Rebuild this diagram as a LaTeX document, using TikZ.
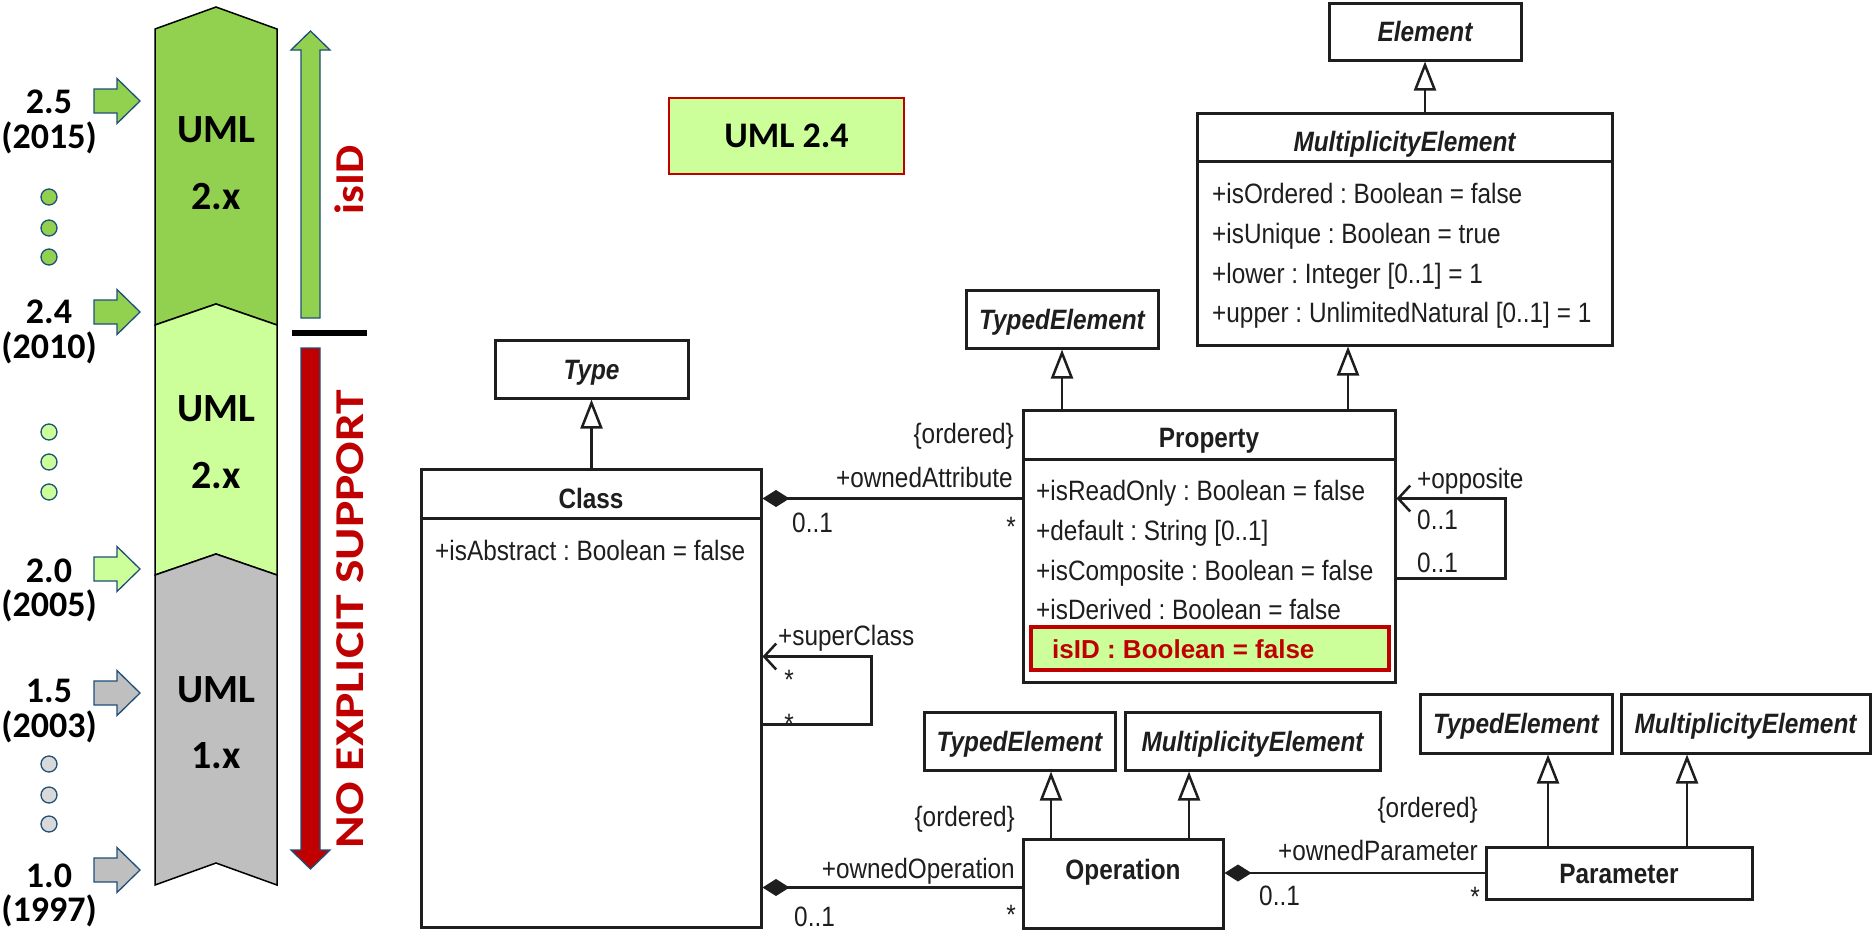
\documentclass[tikz,border=0pt]{standalone}
\usepackage{fontspec}
\usetikzlibrary{arrows.meta}
\setmainfont{Liberation Sans}
\newfontfamily\umlfont[FakeStretch=0.87]{Liberation Sans}
\newfontfamily\plainsans{Liberation Sans}
\newfontfamily\calfont{Carlito}
\frenchspacing

\definecolor{dkgreen}{HTML}{92D050}
\definecolor{ltgreen}{HTML}{CCFF99}
\definecolor{midgray}{HTML}{BFBFBF}
\definecolor{dotgray}{HTML}{D9D9D9}
\definecolor{navy}{HTML}{1F4E79}
\definecolor{umlred}{HTML}{C00000}
\definecolor{inkc}{HTML}{1E1E1E}

% block arrow pointing at the timeline: #1 = y of the tip, #2 = fill colour
\newcommand\verarrow[2]{%
  \filldraw[outl, fill=#2] (94,{#1-12}) -- (117,{#1-12}) -- (117,{#1-22.5}) -- (140,#1)
    -- (117,{#1+22.5}) -- (117,{#1+12}) -- (94,{#1+12}) -- cycle;}

\tikzset{
  umlbox/.style={draw=inkc, line width=3pt, fill=white, inner sep=0pt,
    font=\umlfont\bfseries\itshape\fontsize{28}{32}\selectfont, text=inkc,
    text height=20pt, text depth=0pt},
  attr/.style={font=\umlfont\fontsize{28}{32}\selectfont, text=inkc, inner sep=0pt},
  ttl/.style={font=\umlfont\bfseries\fontsize{28}{32}\selectfont, text=inkc, inner sep=0pt},
  divline/.style={draw=inkc, line width=2.5pt},
  gen/.style={draw=inkc, line width=2.5pt, -{Triangle[open, length=29pt, width=22pt]}},
  comp/.style={draw=inkc, line width=2.5pt, {Diamond[length=27pt, width=17pt]}-},
  nav/.style={draw=inkc, line width=2.5pt, -{Straight Barb[length=12pt, width=26pt]}},
  verlab/.style={font=\calfont\bfseries\fontsize{36}{40}\selectfont, inner sep=0pt, anchor=base},
  colname/.style={font=\calfont\bfseries\fontsize{40}{44}\selectfont, inner sep=0pt, anchor=base},
  sidelab/.style={font=\calfont\bfseries\fontsize{41}{45}\selectfont, text=umlred,
    inner sep=0pt, anchor=base, rotate=90},
  band/.style={draw=black, line width=1.5pt},
  outl/.style={draw=navy, line width=1.3pt},
}

\begin{document}
\begin{tikzpicture}[x=1pt, y=-1pt]
\useasboundingbox (0,0) rectangle (1875,930);

% ---------------- version timeline ----------------
\filldraw[band, fill=dkgreen] (155,29) -- (216,7) -- (277,29) -- (277,325) -- (216,304) -- (155,325) -- cycle;
\filldraw[band, fill=ltgreen] (155,325) -- (216,304) -- (277,325) -- (277,575) -- (216,554) -- (155,575) -- cycle;
\filldraw[band, fill=midgray] (155,575) -- (216,554) -- (277,575) -- (277,885) -- (216,863) -- (155,885) -- cycle;

\node[colname] (c1a) at (216,142) {UML};
\node[colname] (c1b) at (216,209) {2.x};
\node[colname] (c2a) at (216,421) {UML};
\node[colname] (c2b) at (216,488) {2.x};
\node[colname] (c3a) at (216,702) {UML};
\node[colname] (c3b) at (216,768) {1.x};

\verarrow{101}{dkgreen}
\verarrow{312}{dkgreen}
\verarrow{569}{ltgreen}
\verarrow{693}{midgray}
\verarrow{870}{midgray}

\node[verlab] (v25) at (49,113) {2.5};
\node[verlab] (y25) at (49,148) {(2015)};
\node[verlab] (v24) at (49,323) {2.4};
\node[verlab] (y24) at (49,358) {(2010)};
\node[verlab] (v20) at (49,582) {2.0};
\node[verlab] (y20) at (49,616) {(2005)};
\node[verlab] (v15) at (49,702) {1.5};
\node[verlab] (y15) at (49,737) {(2003)};
\node[verlab] (v10) at (49,887) {1.0};
\node[verlab] (y10) at (49,921) {(1997)};

\foreach \yy in {197,228,257} \filldraw[outl, fill=dkgreen] (49,\yy) circle[radius=8];
\foreach \yy in {432,462,492} \filldraw[outl, fill=ltgreen] (49,\yy) circle[radius=8];
\foreach \yy in {764,795,824} \filldraw[outl, fill=dotgray] (49,\yy) circle[radius=8];

% support arrows
\filldraw[outl, fill=dkgreen] (301,318) -- (301,50) -- (291,50) -- (310.5,31) -- (330,50) -- (320,50) -- (320,318) -- cycle;
\filldraw[outl, fill=umlred] (301,348) -- (301,850) -- (291,850) -- (310.5,869) -- (330,850) -- (320,850) -- (320,348) -- cycle;
\draw[line width=6pt] (292,333) -- (367,333);

\node[sidelab] (isidside) at (363,180) {\scalebox{1.09}[1]{isID}};
\node[sidelab] (nosupp) at (363,619) {\scalebox{1.21}[1]{NO EXPLICIT SUPPORT}};

% version tag
\node[draw=umlred, line width=2pt, fill=ltgreen, minimum width=235pt, minimum height=76pt,
      inner sep=0pt, font=\calfont\bfseries\fontsize{36}{40}\selectfont] (ver) at (786.5,136) {UML 2.4};

% ---------------- metamodel ----------------
\node[umlbox, minimum width=192pt, minimum height=57pt] (elem) at (1425,31.5) {Element};
\node[umlbox, minimum width=415pt, minimum height=232pt] (meTop) at (1404.5,229) {};
\node[umlbox, minimum width=192pt, minimum height=58pt] (teTop) at (1062,319) {TypedElement};
\node[umlbox, minimum width=372pt, minimum height=272pt] (prop) at (1209,546) {};
\node[umlbox, minimum width=193pt, minimum height=58pt] (type) at (591.5,369) {Type};
\node[umlbox, minimum width=340pt, minimum height=458pt] (cls) at (591,698) {};
\node[umlbox, minimum width=191pt, minimum height=58pt] (teOp) at (1019.5,741) {TypedElement};
\node[umlbox, minimum width=255pt, minimum height=58pt] (meOp) at (1252.5,741) {MultiplicityElement};
\node[umlbox, minimum width=200pt, minimum height=89pt] (op) at (1123,883.5) {};
\node[umlbox, minimum width=266pt, minimum height=52pt, font=\umlfont\bfseries\fontsize{28}{32}\selectfont] (par) at (1619,873) {Parameter};
\node[umlbox, minimum width=192pt, minimum height=59pt] (tePar) at (1516,723.5) {TypedElement};
\node[umlbox, minimum width=249pt, minimum height=59pt] (mePar) at (1745.5,723.5) {MultiplicityElement};

% compartments
\draw[divline] ([yshift=-50pt]meTop.north west) -- ([yshift=-50pt]meTop.north east);
\draw[divline] ([yshift=-51pt]prop.north west) -- ([yshift=-51pt]prop.north east);
\draw[divline] ([yshift=-51pt]cls.north west) -- ([yshift=-51pt]cls.north east);

% titles
\node[ttl, font=\umlfont\bfseries\itshape\fontsize{28}{32}\selectfont, anchor=base] (meTopT) at (1404.5,151) {MultiplicityElement};
\node[ttl, anchor=base] (propT) at (1209,447) {Property};
\node[ttl, anchor=base] (clsT) at (591,508) {Class};
\node[ttl, anchor=base] (opT) at (1123,879) {Operation};

% attributes
\node[attr, anchor=base west] (me1) at (1212,203) {+isOrdered : Boolean = false};
\node[attr, anchor=base west] (me2) at (1212,243) {+isUnique : Boolean = true};
\node[attr, anchor=base west] (me3) at (1212,283) {+lower : Integer [0..1] = 1};
\node[attr, anchor=base west] (me4) at (1212,322) {+upper : UnlimitedNatural [0..1] = 1};
\node[attr, anchor=base west] (p1) at (1036,500) {+isReadOnly : Boolean = false};
\node[attr, anchor=base west] (p2) at (1036,540) {+default : String [0..1]};
\node[attr, anchor=base west] (p3) at (1036,580) {+isComposite : Boolean = false};
\node[attr, anchor=base west] (p4) at (1036,619) {+isDerived : Boolean = false};
\node[attr, anchor=base west] (c1) at (435,560) {+isAbstract : Boolean = false};

\node[draw=umlred, line width=4pt, fill=ltgreen, minimum width=358pt, minimum height=43pt, inner sep=0pt] (idbox) at (1210,648.5) {};
\node[anchor=base west, inner sep=0pt, text=umlred, font=\plainsans\bfseries\fontsize{26}{30}\selectfont] (idtxt) at (1052,658) {isID : Boolean = false};

% generalizations
\coordinate (gPm) at ([xshift=-56.5pt]meTop.south);
\coordinate (gOt) at ([xshift=31.5pt]teOp.south);
\coordinate (gOm) at ([xshift=-63.5pt]meOp.south);
\coordinate (gQt) at ([xshift=32pt]tePar.south);
\coordinate (gQm) at ([xshift=-58.5pt]mePar.south);
\draw[gen] (elem.south |- meTop.north) -- (elem.south);
\draw[gen] (type.south |- cls.north) -- (type.south);
\draw[gen] (teTop.south |- prop.north) -- (teTop.south);
\draw[gen] (gPm |- prop.north) -- (gPm);
\draw[gen] (gOt |- op.north) -- (gOt);
\draw[gen] (gOm |- op.north) -- (gOm);
\draw[gen] (gQt |- par.north) -- (gQt);
\draw[gen] (gQm |- par.north) -- (gQm);

% compositions
\coordinate (oaC) at ([yshift=-31pt]cls.north east);
\draw[comp] (oaC) -- (oaC -| prop.west);
\coordinate (ooC) at ([yshift=-50pt]op.north west);
\draw[comp] (ooC -| cls.east) -- (ooC);
\draw[comp] (op.east |- par.west) -- (par.west);

% self associations
\coordinate (scA) at ([yshift=-189pt]cls.north east);
\coordinate (scB) at ([yshift=-257pt]cls.north east);
\draw[nav] (scB) -- ++(109,0) |- (scA);
\coordinate (opA) at ([yshift=-90pt]prop.north east);
\coordinate (opB) at ([yshift=-170pt]prop.north east);
\draw[nav] (opB) -- ++(109,0) |- (opA);

% association end labels
\node[attr, anchor=base east] (l1) at (1014,443) {\{ordered\}};
\node[attr, anchor=base east] (l2) at (1013,487) {+ownedAttribute};
\node[attr, anchor=base west] (l3) at (792,532) {0..1};
\node[attr, anchor=base] (l4) at (1011,536) {*};
\node[attr, anchor=base west] (l5) at (778,645) {+superClass};
\node[attr, anchor=base] (l6) at (789,689) {*};
\node[attr, anchor=base] (l7) at (789,733) {*};
\node[attr, anchor=base west] (l8) at (1417,488) {+opposite};
\node[attr, anchor=base west] (l9) at (1417,529) {0..1};
\node[attr, anchor=base west] (l10) at (1417,572) {0..1};
\node[attr, anchor=base east] (l11) at (1015,826) {\{ordered\}};
\node[attr, anchor=base east] (l12) at (1015,878) {+ownedOperation};
\node[attr, anchor=base west] (l13) at (794,926) {0..1};
\node[attr, anchor=base] (l14) at (1011,924) {*};
\node[attr, anchor=base east] (l15) at (1478,817) {\{ordered\}};
\node[attr, anchor=base east] (l16) at (1478,860) {+ownedParameter};
\node[attr, anchor=base west] (l17) at (1259,905) {0..1};
\node[attr, anchor=base] (l18) at (1475,906) {*};
\end{tikzpicture}
\end{document}
